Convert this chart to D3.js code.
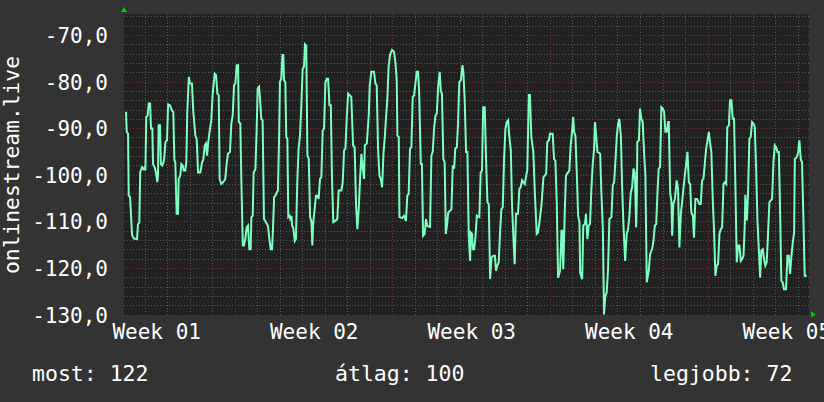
<!DOCTYPE html>
<html><head><meta charset="utf-8">
<script src="https://cdn.jsdelivr.net/npm/d3@7"></script>
<style>html,body{margin:0;padding:0;background:#333333;}svg{display:block}</style>
</head><body><svg id="c" width="824" height="402"></svg>
<script>
// time of each sample, in days since the left edge of the graph
const sampleDays = [0.09,0.12,0.18,0.21,0.27,0.36,0.44,0.58,0.62,0.68,0.72,0.80,0.86,0.92,0.95,0.99,1.05,1.10,1.16,1.20,1.26,1.29,1.36,1.42,1.48,1.51,1.54,1.60,1.64,1.70,1.78,1.84,1.91,1.96,2.04,2.13,2.19,2.24,2.28,2.34,2.40,2.43,2.50,2.55,2.61,2.65,2.72,2.77,2.81,2.88,2.93,3.02,3.08,3.17,3.23,3.29,3.39,3.47,3.52,3.59,3.64,3.69,3.73,3.79,3.88,3.94,4.03,4.09,4.15,4.21,4.25,4.32,4.41,4.50,4.56,4.62,4.71,4.77,4.83,4.89,4.95,5.01,5.07,5.10,5.17,5.21,5.28,5.33,5.39,5.45,5.51,5.57,5.63,5.66,5.72,5.76,5.84,5.90,5.94,6.00,6.04,6.10,6.16,6.22,6.31,6.40,6.46,6.52,6.58,6.62,6.67,6.73,6.79,6.84,6.89,6.93,6.99,7.04,7.08,7.11,7.17,7.21,7.26,7.30,7.36,7.41,7.44,7.47,7.52,7.59,7.64,7.70,7.76,7.82,7.88,7.94,8.00,8.04,8.10,8.15,8.21,8.27,8.33,8.37,8.41,8.48,8.53,8.59,8.65,8.71,8.77,8.83,8.89,8.95,9.01,9.07,9.13,9.19,9.24,9.30,9.39,9.48,9.54,9.66,9.72,9.78,9.84,9.90,9.96,10.04,10.10,10.18,10.25,10.31,10.37,10.43,10.49,10.55,10.61,10.67,10.70,10.79,10.88,10.92,10.99,11.11,11.17,11.23,11.29,11.35,11.41,11.47,11.53,11.59,11.64,11.70,11.76,11.82,11.91,12.00,12.06,12.12,12.15,12.21,12.24,12.36,12.44,12.53,12.59,12.65,12.71,12.77,12.83,12.89,12.95,13.01,13.07,13.12,13.19,13.24,13.29,13.36,13.42,13.48,13.60,13.66,13.72,13.78,13.84,13.90,13.96,14.03,14.08,14.13,14.19,14.25,14.30,14.34,14.41,14.49,14.55,14.61,14.67,14.72,14.79,14.84,14.90,14.97,15.04,15.08,15.14,15.20,15.26,15.32,15.38,15.41,15.47,15.50,15.56,15.61,15.68,15.79,15.85,15.91,15.96,16.03,16.09,16.15,16.21,16.27,16.33,16.41,16.48,16.53,16.59,16.65,16.71,16.77,16.83,16.89,16.95,17.01,17.07,17.12,17.19,17.24,17.30,17.36,17.42,17.51,17.57,17.63,17.69,17.75,17.81,17.87,17.92,17.99,18.04,18.10,18.19,18.25,18.34,18.40,18.46,18.55,18.64,18.76,18.81,18.88,18.93,19.05,19.11,19.17,19.23,19.29,19.38,19.44,19.47,19.52,19.59,19.64,19.73,19.79,19.85,19.91,19.96,20.00,20.06,20.12,20.18,20.24,20.27,20.36,20.41,20.48,20.53,20.59,20.65,20.71,20.77,20.83,20.89,20.93,20.98,21.04,21.16,21.21,21.28,21.33,21.39,21.45,21.51,21.57,21.66,21.72,21.78,21.84,21.90,21.96,22.01,22.08,22.13,22.19,22.27,22.34,22.40,22.46,22.52,22.58,22.64,22.70,22.76,22.79,22.81,22.88,22.93,22.99,23.05,23.11,23.17,23.23,23.32,23.38,23.47,23.52,23.59,23.65,23.70,23.76,23.82,23.88,23.94,24.00,24.06,24.12,24.18,24.21,24.27,24.33,24.36,24.41,24.48,24.56,24.62,24.68,24.75,24.80,24.86,24.92,24.98,25.04,25.10,25.16,25.21,25.28,25.33,25.39,25.47,25.57,25.63,25.69,25.75,25.81,25.87,25.92,25.99,26.04,26.10,26.17,26.22,26.28,26.34,26.40,26.46,26.52,26.58,26.64,26.70,26.76,26.81,26.88,26.93,26.99,27.05,27.11,27.17,27.23,27.29,27.35,27.41,27.47,27.53,27.59,27.61,27.68,27.73,27.79,27.85,27.91,27.97,28.03,28.09,28.15,28.21,28.27,28.32,28.39,28.44,28.50,28.56,28.62,28.68,28.74,28.80,28.86,28.92,28.98,29.04,29.10,29.16,29.21,29.27,29.33,29.42,29.48,29.54,29.60,29.66,29.72,29.78,29.81,29.90,29.96,30.01,30.08,30.13,30.19,30.25,30.34];
const sampleValues = [-86.5,-90.8,-91.2,-104.5,-104.8,-113,-113.7,-113.8,-110.6,-110.3,-99.5,-98.4,-98.8,-98.4,-99.1,-87.6,-87.3,-84.7,-84.7,-90.1,-90.1,-97.7,-98.4,-99.5,-101.6,-100.2,-89.4,-89.4,-97.7,-98,-96.9,-93,-92.6,-84.9,-85.1,-86.2,-86.5,-96.9,-97.3,-108.4,-108.4,-100.9,-100.2,-97.7,-98,-99.1,-99.1,-97.3,-86.9,-79,-80.4,-80.4,-86.5,-91.6,-92.3,-99.5,-99.5,-97.3,-96.9,-93.7,-93.3,-95.9,-93.7,-91.2,-88.3,-82.6,-78.3,-78.6,-82.6,-83,-100.9,-102,-101.6,-100.9,-97.7,-95.5,-95.1,-89,-87.3,-80.8,-80.4,-76.5,-76.5,-88.7,-89,-100.2,-115.2,-115.2,-113.8,-111.3,-110.9,-116,-116,-109.1,-108.8,-99.5,-98.8,-89.4,-81.5,-81.1,-83.3,-88,-88.3,-109.5,-110.2,-111,-113.8,-116,-116,-111.7,-104.8,-104.5,-103.8,-103.4,-92.6,-80.1,-79.4,-74.3,-74.3,-79.7,-80.1,-91.9,-92.3,-109.1,-108.8,-109.9,-108.8,-111,-111.3,-114.2,-113.8,-101.6,-94.4,-91.6,-85.1,-77.2,-76.8,-72,-72.3,-95.9,-96.6,-109.1,-110.2,-115.2,-110.2,-107,-104.5,-104.5,-105.2,-100.9,-100.5,-90.5,-90.1,-80.1,-79.4,-79.4,-85.1,-85.1,-100.2,-110.2,-109.9,-109.5,-103.4,-103.4,-101.6,-94.8,-94.4,-87.6,-82.6,-83,-83.3,-93.7,-94.1,-106.3,-111.7,-107.4,-100.9,-95.5,-98.7,-100.9,-93.7,-93.3,-86.9,-80.8,-77.9,-77.9,-80.4,-80.8,-94.4,-100.2,-100.9,-102.7,-95.5,-91.9,-88,-84,-76.8,-74.3,-73.2,-73.6,-75.8,-79.7,-91.6,-91.9,-109.1,-109.3,-108.8,-109.9,-104.5,-104.1,-94.4,-94.1,-83.3,-83,-80.4,-77.9,-77.9,-82.9,-97.7,-97.7,-113.1,-112.7,-109.5,-111,-111.2,-95.9,-95.1,-90.1,-87.3,-86.9,-81.1,-77.9,-82.2,-82.6,-96.6,-97.3,-112.7,-111.3,-108.1,-107.7,-107.4,-98,-98.7,-94.4,-94.1,-89.4,-80.1,-79.7,-76.5,-77.9,-84,-95.1,-95.1,-113.1,-118.5,-112.4,-112.7,-116,-116,-113.8,-108.8,-109.1,-99.5,-99.1,-85.5,-85.5,-96.9,-105.9,-106.3,-122.4,-117.8,-117.4,-117.4,-120.6,-119.5,-118.8,-112.4,-107.4,-107,-96.6,-90.1,-88.7,-88.3,-91.6,-94.8,-105.9,-113.1,-119.2,-108.4,-108.4,-103,-102.7,-101.2,-101.6,-102,-100.2,-99.1,-82.9,-82.9,-91.9,-95.1,-103,-112.7,-112.4,-110.2,-106.6,-100.5,-99.8,-93,-92.6,-91.2,-91.2,-96.6,-97,-105.9,-122.1,-120.6,-112,-112,-120.3,-107.4,-100.2,-99.5,-99.1,-93.7,-90.8,-87.6,-90.8,-91.6,-99.5,-108.8,-110.2,-121,-122.4,-110.9,-110.6,-108.4,-113.8,-110.9,-110.6,-103,-97.7,-94.4,-88.7,-91.6,-95.1,-95.5,-103.4,-111.7,-130,-126,-125.3,-120.3,-109.5,-109.1,-102.3,-101.6,-96.9,-91.6,-89,-88,-91.6,-101.6,-110.2,-118.5,-112.7,-111.7,-108.8,-103.8,-102.7,-98.7,-99.5,-111.3,-104.5,-93,-92.6,-85.8,-88,-88.7,-95.1,-100.2,-123.1,-120.6,-117,-115.9,-114.5,-110.9,-110.6,-104.5,-98.7,-98.4,-85.5,-85.8,-86.5,-90.8,-90.8,-88.7,-88.7,-103.8,-106,-113.1,-106.3,-105.2,-101.2,-103,-115.6,-108.1,-106,-103,-100.2,-97.7,-95.1,-101.6,-102,-108.1,-108.8,-113.5,-105.2,-105.2,-106.3,-106.3,-101.2,-100.9,-97.7,-94.4,-93,-90.8,-93,-95.1,-106.3,-111.7,-121.7,-119.5,-119.2,-112.7,-111.7,-111.3,-102,-101.6,-102,-89.8,-89.4,-84,-84,-88,-88,-102.7,-118.8,-115.2,-115.2,-118.5,-118.1,-117.4,-110.2,-104.3,-109.8,-104.3,-92.3,-91.9,-88.7,-89,-89.8,-98.7,-109.9,-116,-122.1,-116.3,-116,-118.1,-119.5,-118.8,-112.7,-105.9,-105.5,-105.2,-97.3,-93.7,-94.1,-95.1,-95.1,-108.8,-122.8,-123.1,-124.6,-124.6,-117.4,-117.4,-121.3,-117.4,-114.5,-112.4,-96.6,-96.2,-95.1,-92.6,-96.9,-97.3,-109.1,-121.7,-121.7];

const graphStartDay = 2.07;      // day-of-week-grid at which the graph starts
const graphSpanDays = 30.44;
const yMin = -130, yMax = -65.5;
const yTickValues = [-130, -120, -110, -100, -90, -80, -70];
const weekLabels = ["Week 01", "Week 02", "Week 03", "Week 04", "Week 05"];
const weekLabelDays = [3.5, 10.5, 17.5, 24.5, 31.5];
const yTitle = "onlinestream.live";
const legendTexts = ["most: 122", "átlag: 100", "legjobb: 72"];

const W = 824, H = 402;
const M = {left: 124, right: 809, top: 14, bottom: 314.5};
const svg = d3.select("#c");
const FONT = "'DejaVu Sans Mono', monospace";

svg.append("rect").attr("width", W).attr("height", H).attr("fill", "#333333");

const x = d3.scaleLinear().domain([graphStartDay, graphStartDay + graphSpanDays]).range([M.left, M.right]);
const y = d3.scaleLinear().domain([yMin, yMax]).range([M.bottom, M.top]);

svg.append("rect").attr("x", M.left).attr("y", M.top)
  .attr("width", M.right - M.left).attr("height", M.bottom - M.top + 1)
  .attr("fill", "#212121");

const grid = svg.append("g").attr("shape-rendering", "crispEdges");
const minorColor = "#585858", majorColor = "#743434";
d3.range(yMin, yMax, 2).forEach(v => {
  if (v % 10 === 0) return;
  grid.append("line").attr("x1", M.left).attr("x2", M.right)
    .attr("y1", Math.round(y(v)) + 0.5).attr("y2", Math.round(y(v)) + 0.5)
    .attr("stroke", minorColor).attr("stroke-dasharray", "1,2");
});
d3.range(Math.ceil(graphStartDay), graphStartDay + graphSpanDays, 1).forEach(d => {
  if (d % 7 === 0) return;
  grid.append("line").attr("y1", M.top).attr("y2", M.bottom)
    .attr("x1", Math.round(x(d)) + 0.5).attr("x2", Math.round(x(d)) + 0.5)
    .attr("stroke", minorColor).attr("stroke-dasharray", "1,2");
});
yTickValues.forEach(v => {
  grid.append("line").attr("x1", M.left).attr("x2", M.right)
    .attr("y1", Math.round(y(v)) + 0.5).attr("y2", Math.round(y(v)) + 0.5)
    .attr("stroke", majorColor).attr("stroke-dasharray", "1,2");
});
d3.range(7, graphStartDay + graphSpanDays, 7).forEach(d => {
  grid.append("line").attr("y1", M.top).attr("y2", M.bottom + 3)
    .attr("x1", Math.round(x(d)) + 0.5).attr("x2", Math.round(x(d)) + 0.5)
    .attr("stroke", majorColor).attr("stroke-dasharray", "1,2");
});

// data line
const pts = sampleDays.map((d, i) => [d + graphStartDay, sampleValues[i]]);
svg.append("defs").append("clipPath").attr("id", "clip").append("rect")
  .attr("x", M.left).attr("y", M.top).attr("width", M.right - M.left).attr("height", M.bottom - M.top + 1);
svg.append("path").datum(pts)
  .attr("clip-path", "url(#clip)")
  .attr("fill", "none").attr("stroke", "#7dffc0").attr("stroke-width", 2)
  .attr("stroke-linejoin", "miter")
  .attr("d", d3.line().x(p => x(p[0])).y(p => y(p[1])));

// axes arrows
svg.append("path").attr("fill", "#00cc00")
  .attr("d", `M${M.left - 3},${M.top - 2}L${M.left + 3},${M.top - 2}L${M.left},${M.top - 7}Z`);
svg.append("path").attr("fill", "#00cc00")
  .attr("d", `M${M.right + 2},${M.bottom - 3}L${M.right + 2},${M.bottom + 3}L${M.right + 7},${M.bottom}Z`);

// y labels
const loc = d3.formatLocale({decimal: ",", thousands: ".", grouping: [3], currency: ["", ""], minus: "-"});
const fmt = loc.format(".1f");
const yAxis = d3.axisLeft(y).tickValues(yTickValues).tickFormat(fmt).tickSize(0).tickPadding(0);
const yg = svg.append("g").attr("transform", `translate(108,0)`).call(yAxis);
yg.select(".domain").remove();
yg.selectAll("text").attr("fill", "#ffffff").attr("font-family", FONT).attr("font-size", 21)
  .attr("dy", "0.36em");

// x labels
const xAxis = d3.axisBottom(x).tickValues(weekLabelDays).tickFormat((d, i) => weekLabels[i]).tickSize(0).tickPadding(0);
const xg = svg.append("g").attr("transform", `translate(0,323)`).call(xAxis);
xg.select(".domain").remove();
xg.selectAll("text").attr("fill", "#ffffff").attr("font-family", FONT).attr("font-size", 21).attr("dy", "0.76em");

// y title
svg.append("text").attr("transform", `translate(19,165) rotate(-90)`)
  .attr("text-anchor", "middle").attr("fill", "#ffffff")
  .attr("font-family", FONT).attr("font-size", 21.3).text(yTitle);

// legend
const legendX = [32, 335, 650];
legendTexts.forEach((t, i) => {
  svg.append("text").attr("x", legendX[i]).attr("y", 381)
    .attr("fill", "#ffffff").attr("font-family", FONT).attr("font-size", 21.5).text(t);
});
</script>
</body></html>
